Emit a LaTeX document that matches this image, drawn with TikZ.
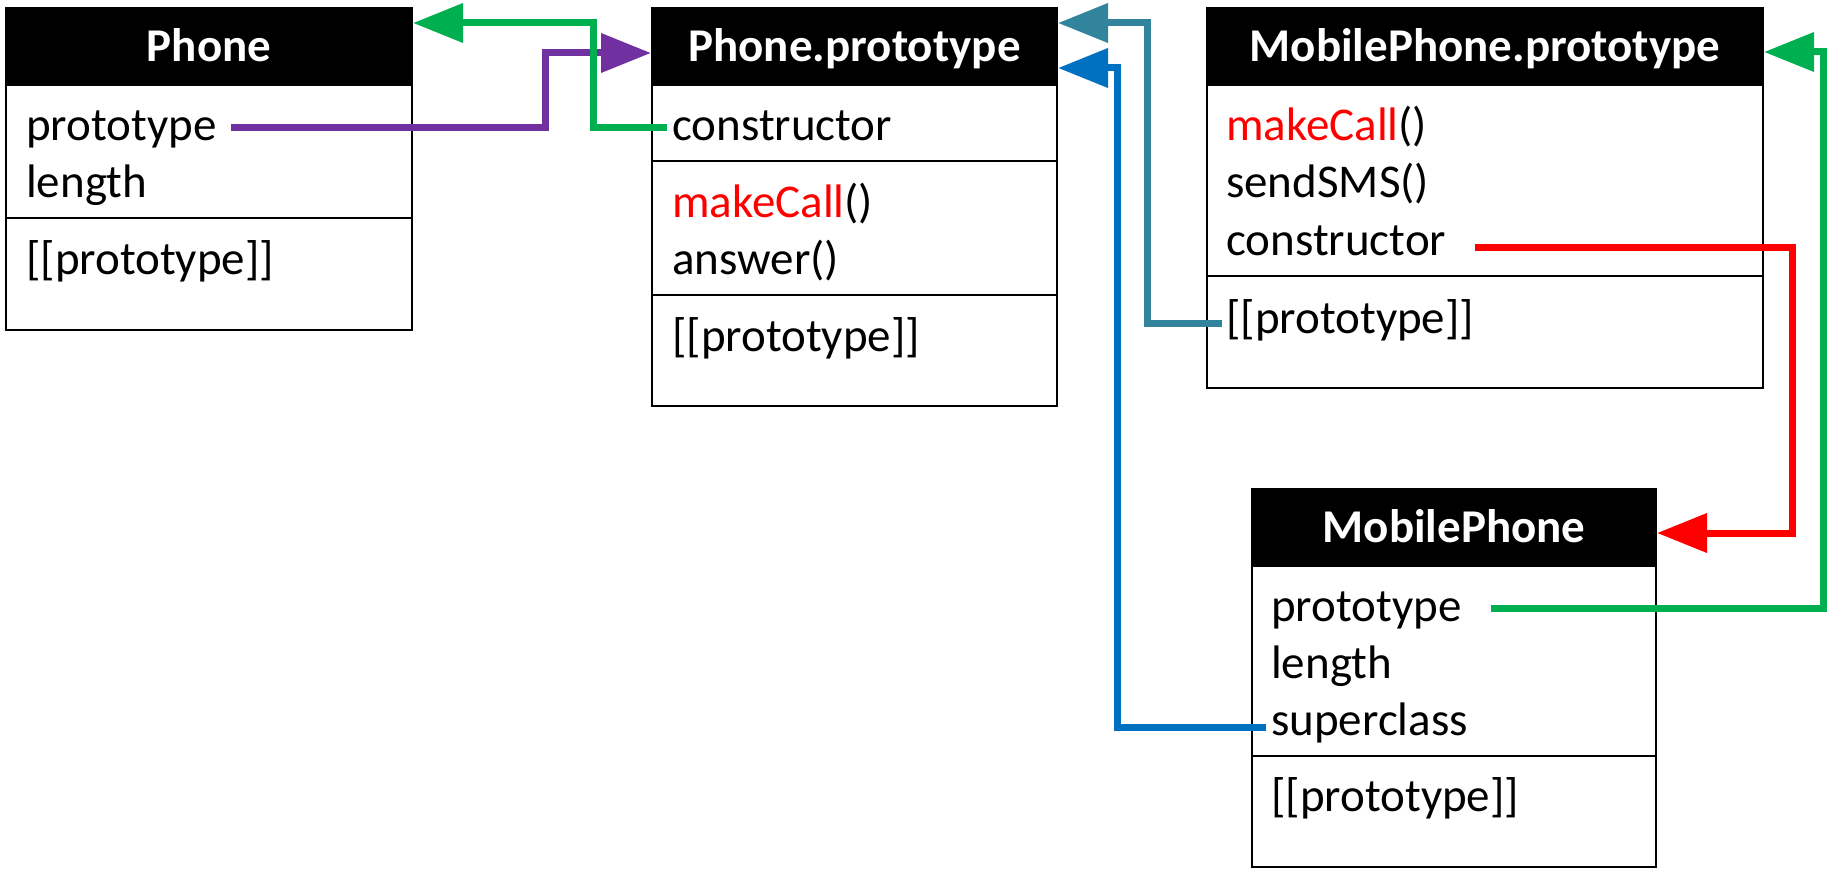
\documentclass[tikz,border=0pt]{standalone}
\usepackage{fontspec}
\setmainfont{Carlito}
\usetikzlibrary{arrows.meta}
\definecolor{cpurple}{HTML}{7030A0}
\definecolor{cgreen}{HTML}{00B050}
\definecolor{cteal}{HTML}{31849B}
\definecolor{cblue}{HTML}{0070C0}
\definecolor{cred}{HTML}{FF0000}
\begin{document}
\begin{tikzpicture}[x=1pt,y=-1pt,
  hdr/.style={draw=black,line width=2pt,fill=black,text=white,inner sep=0pt,
    minimum height=77pt,text height=30pt,text depth=0pt,
    font=\fontsize{47}{56}\selectfont\bfseries},
  txt/.style={inner sep=0pt,anchor=base west,font=\fontsize{47}{56}\selectfont},
  boxline/.style={draw=black,line width=2pt},
  conn/.style={line width=7pt,-{Triangle[length=50pt,width=38pt]}}]
\useasboundingbox[fill=white] (0,0) rectangle (1829,869);

% Phone
\draw[boxline] (6,85) rectangle (412,330);
\draw[boxline] (6,218) -- (412,218);
\node[hdr,minimum width=406pt] (phoneH) at (209,47) {Phone};
\node[txt] (phProto) at (26,141) {prototype};
\node[txt] (phLen) at (26,198) {length};
\node[txt] (phPP) at (26,275) {[[prototype]]};

% Phone.prototype
\draw[boxline] (652,85) rectangle (1057,406);
\draw[boxline] (652,161) -- (1057,161);
\draw[boxline] (652,295) -- (1057,295);
\node[hdr,minimum width=405pt] (ppH) at (854.5,47) {Phone.prototype};
\node[txt] (ppCons) at (672,141) {constructor};
\node[txt] (ppMake) at (672,218) {\textcolor{cred}{makeCall}()};
\node[txt] (ppAns) at (672,275) {answer()};
\node[txt] (ppPP) at (672,351) {[[prototype]]};

% MobilePhone.prototype
\draw[boxline] (1207,85) rectangle (1763,388);
\draw[boxline] (1207,276) -- (1763,276);
\node[hdr,minimum width=556pt] (mppH) at (1485,47) {MobilePhone.prototype};
\node[txt] (mppMake) at (1226,141) {\textcolor{cred}{makeCall}()};
\node[txt] (mppSMS) at (1226,198) {sendSMS()};
\node[txt] (mppCons) at (1226,256) {constructor};
\node[txt] (mppPP) at (1226,333) {[[prototype]]};

% MobilePhone
\draw[boxline] (1252,566) rectangle (1656,867);
\draw[boxline] (1252,756) -- (1656,756);
\node[hdr,minimum width=404pt] (mpH) at (1454,527.5) {MobilePhone};
\node[txt] (mpProto) at (1271,621) {prototype};
\node[txt] (mpLen) at (1271,678) {length};
\node[txt] (mpSup) at (1271,735) {superclass};
\node[txt] (mpPP) at (1271,811) {[[prototype]]};

% tip coordinates
\coordinate (tipPurple) at ([yshift=-6pt]ppH.west);
\coordinate (tipGreenA) at ([yshift=24pt]phoneH.east);
\coordinate (tipTeal) at ([yshift=24pt]ppH.east);
\coordinate (tipBlue) at ([yshift=-21pt]ppH.east);
\coordinate (tipRed) at ([yshift=-5.5pt]mpH.east);
\coordinate (tipGreenB) at ([yshift=-5pt]mppH.east);

% connectors
\draw[conn,cpurple] ([xshift=14pt,yshift=13pt]phProto.base east) -| ([xshift=-106pt]tipPurple) -- (tipPurple);
\draw[conn,cgreen] ([xshift=-5pt,yshift=13pt]ppCons.base west) -| ([xshift=180pt]tipGreenA) -- (tipGreenA);
\draw[conn,cteal] ([xshift=-4pt,yshift=10pt]mppPP.base west) -| ([xshift=89pt]tipTeal) -- (tipTeal);
\draw[conn,cblue] ([xshift=-5pt,yshift=8pt]mpSup.base west) -| ([xshift=59pt]tipBlue) -- (tipBlue);
\draw[conn,cred] ([xshift=29pt,yshift=8pt]mppCons.base east) -| ([xshift=135pt]tipRed) -- (tipRed);
\draw[conn,cgreen] ([xshift=29pt,yshift=13pt]mpProto.base east) -| ([xshift=59pt]tipGreenB) -- (tipGreenB);
\end{tikzpicture}
\end{document}
